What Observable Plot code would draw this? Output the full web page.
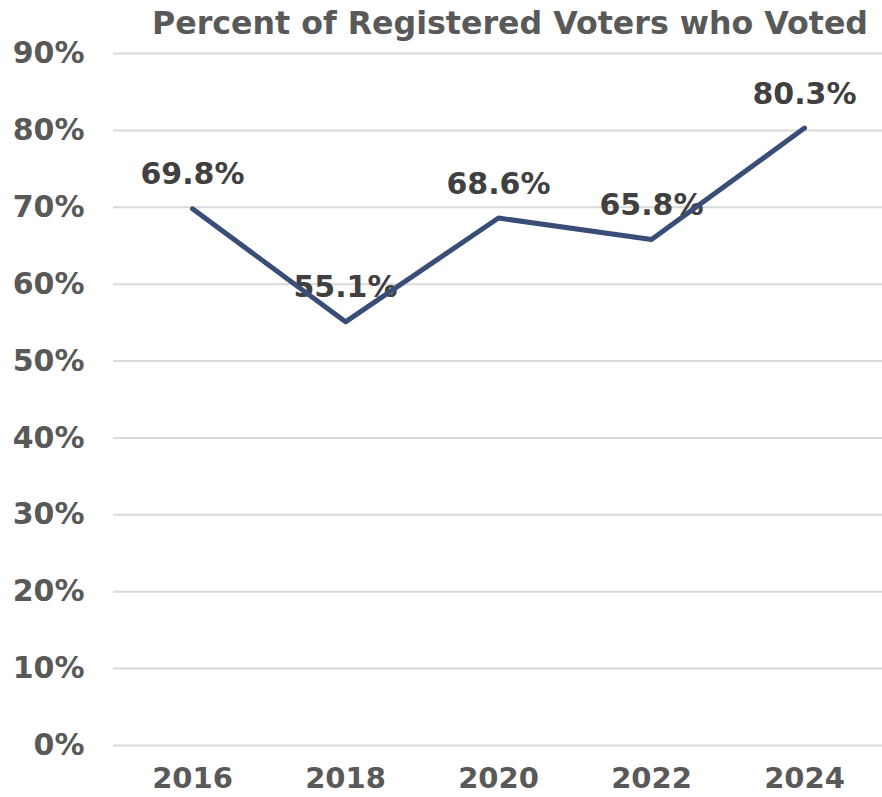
<!DOCTYPE html>
<html>
<head>
<meta charset="utf-8">
<script src="https://cdn.jsdelivr.net/npm/d3@7"></script>
<script src="https://cdn.jsdelivr.net/npm/@observablehq/plot@0.6"></script>
<style>
  html, body { margin: 0; padding: 0; background: #fff; }
  #chart svg { display: block; }
</style>
</head>
<body>
<div id="chart"></div>
<script>
const title = "Percent of Registered Voters who Voted";
const years = ["2016", "2018", "2020", "2022", "2024"];
const turnout = [0.698, 0.551, 0.686, 0.658, 0.803];
const labels = ["69.8%", "55.1%", "68.6%", "65.8%", "80.3%"];
const yTicks = [0, 0.1, 0.2, 0.3, 0.4, 0.5, 0.6, 0.7, 0.8, 0.9];

const data = years.map((y, i) => ({year: y, value: turnout[i], label: labels[i]}));

const font = "'DejaVu Sans', Verdana, sans-serif";

const chart = Plot.plot({
  width: 882,
  height: 797,
  marginTop: 53,
  marginBottom: 52,
  marginLeft: 113,
  marginRight: 0,
  style: {fontFamily: font, fontWeight: "bold", fontSize: "28px", color: "#595959", background: "#fff"},
  x: {type: "point", domain: years, padding: 0.5, label: null},
  y: {domain: [0, 0.9], label: null},
  marks: [
    Plot.gridY(yTicks, {stroke: "#d9d9d9", strokeOpacity: 1, strokeWidth: 2}),
    Plot.axisY(yTicks, {tickFormat: d3.format(".0%"), tickSize: 0, tickPadding: 29, fontSize: 30, fill: "#595959", fontWeight: "bold"}),
    Plot.axisX({tickSize: 0, tickPadding: 22, fontSize: 29, fill: "#595959", fontWeight: "bold"}),
    Plot.text(data, {x: "year", y: "value", text: "label", dy: -34, fontSize: 30, fontWeight: "bold", fill: "#404040"}),
    Plot.line(data, {x: "year", y: "value", stroke: "#394d76", strokeWidth: 5, strokeLinejoin: "round", strokeLinecap: "round"})
  ]
});

d3.select(chart).append("text")
  .attr("x", 152)
  .attr("y", 34)
  .attr("text-anchor", "start")
  .attr("textLength", 716)
  .attr("lengthAdjust", "spacingAndGlyphs")
  .attr("font-family", font)
  .attr("font-weight", "bold")
  .attr("font-size", 32)
  .attr("fill", "#595959")
  .text(title);

document.getElementById("chart").appendChild(chart);
</script>
</body>
</html>
